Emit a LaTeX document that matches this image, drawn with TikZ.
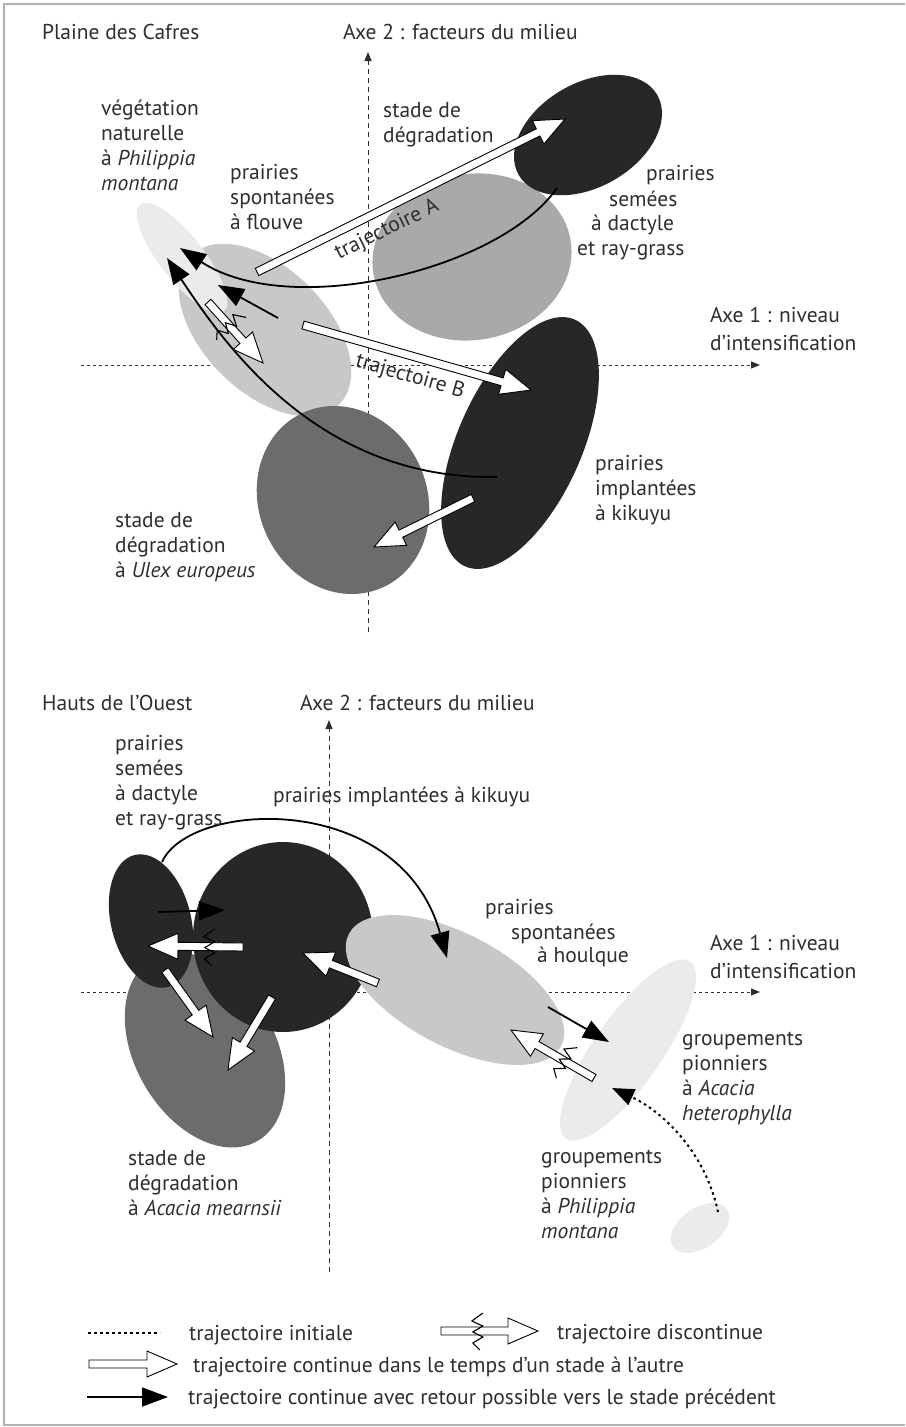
\documentclass[tikz,border=0pt]{standalone}
\usepackage{fontspec}
\setmainfont{PT Sans}
\usetikzlibrary{arrows.meta,shapes.geometric,calc}

\definecolor{ink}{HTML}{2E2E2E}
\definecolor{dark}{HTML}{272727}
\definecolor{mid}{HTML}{6C6C6C}
\definecolor{grey}{HTML}{A9A9A9}
\definecolor{pale}{HTML}{C8C8C8}
\definecolor{faint}{HTML}{EBEBEB}

% hollow arrow between two named points: #1 tail, #2 tip
\newcommand{\hollowarrow}[2]{%
  \coordinate (hb) at ($(#2)!30pt!(#1)$);
  \filldraw[hollow]
    ($(#1)!4pt!90:(#2)$) -- ($(hb)!4pt!-90:(#1)$) -- ($(hb)!13pt!-90:(#1)$) -- (#2)
    -- ($(hb)!13pt!90:(#1)$) -- ($(hb)!4pt!90:(#1)$) -- ($(#1)!4pt!-90:(#2)$) -- cycle;
}

\begin{document}
\begin{tikzpicture}[x=1pt, y=-1pt,
    stage/.style={ellipse, draw=none, inner sep=0pt},
    txt/.style={anchor=base west, align=left, inner sep=0pt, text=ink, font=\fontsize{21.5}{25}\selectfont},
    block/.style={txt, anchor=north west},
    hollow/.style={fill=white, draw=black, line width=0.9pt, line join=miter},
    retour/.style={draw=black, line width=1.8pt, -{Triangle[length=26pt, width=19pt]}},
    initiale/.style={draw=black, line width=2pt, dash pattern=on 2.5pt off 3.5pt},
    axeH/.style={draw=ink, line width=1pt, dash pattern=on 3pt off 3pt, -{Triangle[length=9pt, width=7pt]}},
    axeV/.style={draw=ink, line width=0.9pt, dash pattern=on 5pt off 4pt, -{Triangle[length=9pt, width=7pt]}},
    zigzag/.pic={\draw[line width=1.1pt, line join=miter] (5,-18) -- (-6,-10) -- (5,-5) -- (-5,1) -- (5,6) -- (-5,12) -- (2,19);}]
  \useasboundingbox (0,0) rectangle (905,1427);
  \draw[gray!60, line width=1.6pt] (905,4) -- (4,4) -- (4,1425) -- (905,1425);

  % ---- Plaine des Cafres ----
  \coordinate (oA1) at (81,365);  \coordinate (eA1) at (760,365);
  \coordinate (oA2) at (368,632); \coordinate (eA2) at (368,52);
  \draw[axeH] (oA1) -- (eA1);
  \draw[axeV] (oA2) -- (eA2);

  \node[stage, fill=grey, minimum width=200pt, minimum height=166pt, rotate=10] (semeesA) at (472,257) {};
  \node[stage, fill=dark, minimum width=160pt, minimum height=104pt, rotate=30] (degA) at (588,135) {};
  \node[stage, fill=pale, minimum width=210pt, minimum height=124pt, rotate=-45] (flouveA) at (265,330) {};
  \node[stage, fill=faint, minimum width=136pt, minimum height=44pt, rotate=-52] (vegA) at (182,258) {};
  \node[stage, fill=mid, minimum width=192pt, minimum height=168pt, rotate=-65] (ulexA) at (343,500) {};
  \node[stage, fill=dark, minimum width=270pt, minimum height=124pt, rotate=66] (kikuyuA) at (520,443) {};

  \coordinate (trAs) at (257,272);  \coordinate (trAe) at (565,119);
  \coordinate (trBs) at (303,325);  \coordinate (trBe) at (531,390);
  \coordinate (disAs) at (208,302); \coordinate (disAe) at (263,363);
  \coordinate (retAs) at (278,318); \coordinate (retAe) at (218,285);
  \coordinate (degOut) at (557,188); \coordinate (vegInA) at (180,248);
  \coordinate (kikOut) at (497,477); \coordinate (vegInB) at (167,258);
  \coordinate (ulexS) at (473,498); \coordinate (ulexE) at (374,547);

  \draw[retour] (kikOut) .. controls (320,480) and (227,348) .. (vegInB);
  \draw[retour] (degOut) .. controls (500,270) and (290,320) .. (vegInA);
  \draw[retour] (retAs) -- (retAe);
  \hollowarrow{trAs}{trAe}
  \hollowarrow{trBs}{trBe}
  \hollowarrow{ulexS}{ulexE}
  \hollowarrow{disAs}{disAe}
  \path (disAs) -- pic[pos=0.39, sloped]{zigzag} (disAe);

  \node[txt] (cafres) at (42,39) {Plaine des Cafres};
  \node[txt] (axe2A) at (343,39) {Axe 2 : facteurs du milieu};
  \node[block] (axe1A) at (710,307) {Axe 1 : niveau\\[3pt]d’intensification};
  \node[block] (vegLbl) at (101,100) {végétation\\naturelle\\à \textit{Philippia}\\\textit{montana}};
  \node[block] (flouveLbl) at (230,164) {prairies\\spontanées\\à flouve};
  \node[block] (degLbl) at (383,102) {stade de\\dégradation};
  \node[txt] (semA1) at (646,180) {prairies};
  \node[txt] (semA2) at (609,206) {semées};
  \node[txt] (semA3) at (591,230) {à dactyle};
  \node[txt] (semA4) at (577,255) {et ray-grass};
  \node[block] (kikLbl) at (595,455) {prairies\\implantées\\à kikuyu};
  \node[block] (ulexLbl) at (115,512) {stade de\\dégradation\\à \textit{Ulex europeus}};
  \node[txt, anchor=center, rotate=26] (trALbl) at (387,230) {trajectoire A};
  \node[txt, anchor=center, rotate=-16] (trBLbl) at (410,377) {trajectoire B};

  % ---- Hauts de l'Ouest ----
  \coordinate (oB1) at (81,992);   \coordinate (eB1) at (760,992);
  \coordinate (oB2) at (329,1272); \coordinate (eB2) at (329,720);
  \draw[axeH] (oB1) -- (eB1);
  \draw[axeV] (oB2) -- (eB2);

  \node[stage, fill=mid, minimum width=210pt, minimum height=140pt, rotate=-60] (mearnsiiB) at (205,1050) {};
  \node[stage, fill=dark, minimum width=136pt, minimum height=80pt, rotate=-76] (semeesB) at (151,921) {};
  \node[stage, fill=dark, minimum width=180pt, minimum height=190pt] (kikuyuB) at (283,937) {};
  \node[stage, fill=pale, minimum width=240pt, minimum height=112pt, rotate=-28] (houlqueB) at (455,990) {};
  \node[stage, fill=faint, minimum width=216pt, minimum height=68pt, rotate=55] (heteroB) at (628,1050) {};
  \node[stage, fill=faint, minimum width=66pt, minimum height=40pt, rotate=35] (philB) at (700,1228) {};

  \coordinate (bowS) at (162,862);    \coordinate (bowE) at (447,958);
  \coordinate (smallS) at (158,912);  \coordinate (smallE) at (225,910);
  \coordinate (backS) at (243,947);   \coordinate (backE) at (148,946);
  \coordinate (downAs) at (165,970);  \coordinate (downAe) at (213,1037);
  \coordinate (downBs) at (272,997);  \coordinate (downBe) at (228,1070);
  \coordinate (houS) at (378,983);    \coordinate (houE) at (303,953);
  \coordinate (hetS) at (548,1007);   \coordinate (hetE) at (609,1042);
  \coordinate (disBs) at (594,1078);  \coordinate (disBe) at (511,1030);
  \coordinate (iniS) at (718,1212);   \coordinate (iniE) at (612,1088);

  \draw[retour] (bowS) .. controls (190,800) and (400,790) .. (bowE);
  \draw[retour] (smallS) -- (smallE);
  \draw[retour] (hetS) -- (hetE);
  \draw[initiale, -{Triangle[length=22pt, width=17pt]}] (iniS) .. controls (705,1150) and (660,1110) .. (iniE);
  \hollowarrow{backS}{backE}
  \path (backS) -- pic[pos=0.35, sloped]{zigzag} (backE);
  \hollowarrow{downAs}{downAe}
  \hollowarrow{downBs}{downBe}
  \hollowarrow{houS}{houE}
  \hollowarrow{disBs}{disBe}
  \path (disBs) -- pic[pos=0.36, sloped]{zigzag} (disBe);

  \node[txt] (ouest) at (42,710) {Hauts de l’Ouest};
  \node[txt] (axe2B) at (300,710) {Axe 2 : facteurs du milieu};
  \node[block] (semLbl) at (115,735) {prairies\\semées\\à dactyle\\et ray-grass};
  \node[txt] (kikB) at (273,802) {prairies implantées à kikuyu};
  \node[txt] (houl1) at (485,914) {prairies};
  \node[txt] (houl2) at (511,939) {spontanées};
  \node[txt] (houl3) at (537,962) {à houlque};
  \node[block] (axe1B) at (710,935) {Axe 1 : niveau\\[3pt]d’intensification};
  \node[block] (hetLbl) at (682,1032) {groupements\\pionniers\\à \textit{Acacia}\\\textit{heterophylla}};
  \node[block] (philLbl) at (541,1150) {groupements\\pionniers\\à \textit{Philippia}\\\textit{montana}};
  \node[block] (mearLbl) at (128,1150) {stade de\\dégradation\\à \textit{Acacia mearnsii}};

  % ---- legend ----
  \coordinate (l1a) at (88,1333);  \coordinate (l1b) at (160,1333);
  \coordinate (l2a) at (441,1331); \coordinate (l2b) at (538,1331);
  \coordinate (l3a) at (89,1364);  \coordinate (l3b) at (177,1364);
  \coordinate (l4a) at (87,1397);  \coordinate (l4b) at (168,1397);
  \draw[initiale] (l1a) -- (l1b);
  \hollowarrow{l2a}{l2b}
  \path (l2a) -- pic[pos=0.38, sloped]{zigzag} (l2b);
  \hollowarrow{l3a}{l3b}
  \draw[retour] (l4a) -- (l4b);
  \node[txt] (leg1) at (189,1340) {trajectoire initiale};
  \node[txt] (leg2) at (557,1339) {trajectoire discontinue};
  \node[txt] (leg3) at (193,1372) {trajectoire continue dans le temps d’un stade à l’autre};
  \node[txt] (leg4) at (188,1404) {trajectoire continue avec retour possible vers le stade précédent};
\end{tikzpicture}
\end{document}
